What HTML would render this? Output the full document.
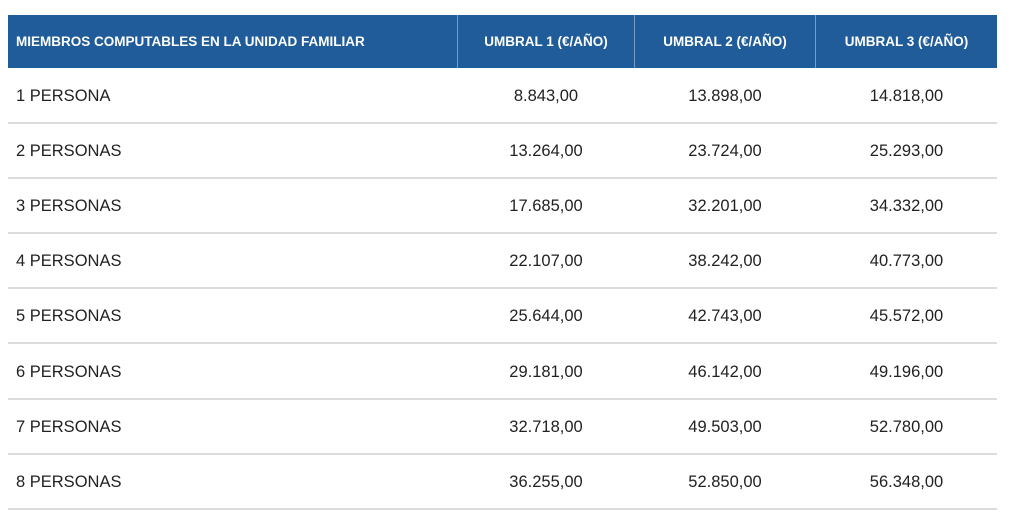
<!DOCTYPE html>
<html><head><meta charset="utf-8"><style>
body{margin:0;width:1024px;height:526px;background:#fff;font-family:"Liberation Sans",sans-serif;position:relative;overflow:hidden}
#hdr{position:absolute;left:8px;top:15px;width:989px;height:53px;background:#1f5c99}
.h{position:absolute;top:15px;height:53px;line-height:53px;color:#fff;font-weight:bold;font-size:13.5px;text-align:center}
.sep{position:absolute;top:15px;height:53px;width:1px;background:#7a9cc4}
.c{position:absolute;height:55px;line-height:55px;font-size:16.5px;color:#222}
.line{position:absolute;left:8px;width:989px;height:2px;background:#dcdcdc}
</style></head><body>
<div id="hdr"></div>
<div class="h" style="left:16px;text-align:left">MIEMBROS COMPUTABLES EN LA UNIDAD FAMILIAR</div>
<div class="sep" style="left:457px"></div>
<div class="sep" style="left:634px"></div>
<div class="sep" style="left:815px"></div>
<div class="h" style="left:458px;width:176px">UMBRAL 1 (€/AÑO)</div>
<div class="h" style="left:635px;width:180px">UMBRAL 2 (€/AÑO)</div>
<div class="h" style="left:816px;width:181px">UMBRAL 3 (€/AÑO)</div>
<div id="body"></div>
<script>
const labels=["1 PERSONA","2 PERSONAS","3 PERSONAS","4 PERSONAS","5 PERSONAS","6 PERSONAS","7 PERSONAS","8 PERSONAS"];
const umbral1=["8.843,00","13.264,00","17.685,00","22.107,00","25.644,00","29.181,00","32.718,00","36.255,00"];
const umbral2=["13.898,00","23.724,00","32.201,00","38.242,00","42.743,00","46.142,00","49.503,00","52.850,00"];
const umbral3=["14.818,00","25.293,00","34.332,00","40.773,00","45.572,00","49.196,00","52.780,00","56.348,00"];
const body=document.getElementById('body');
const cols=[[458,176],[635,180],[816,181]];
labels.forEach((l,i)=>{
  const top=69+i*55.1;
  const a=document.createElement('div');a.className='c';a.style.left='16px';a.style.top=top+'px';a.textContent=l;
  
  
  body.appendChild(a);
  [umbral1,umbral2,umbral3].forEach((arr,j)=>{
    const d=document.createElement('div');d.className='c';d.style.left=cols[j][0]+'px';d.style.width=cols[j][1]+'px';d.style.textAlign='center';d.style.top=top+'px';d.textContent=arr[i];
    
    
    body.appendChild(d);
  });
  const ln=document.createElement('div');ln.className='line';ln.style.top=(top+53)+'px';
  
  
  body.appendChild(ln);
});
</script>
</body></html>
